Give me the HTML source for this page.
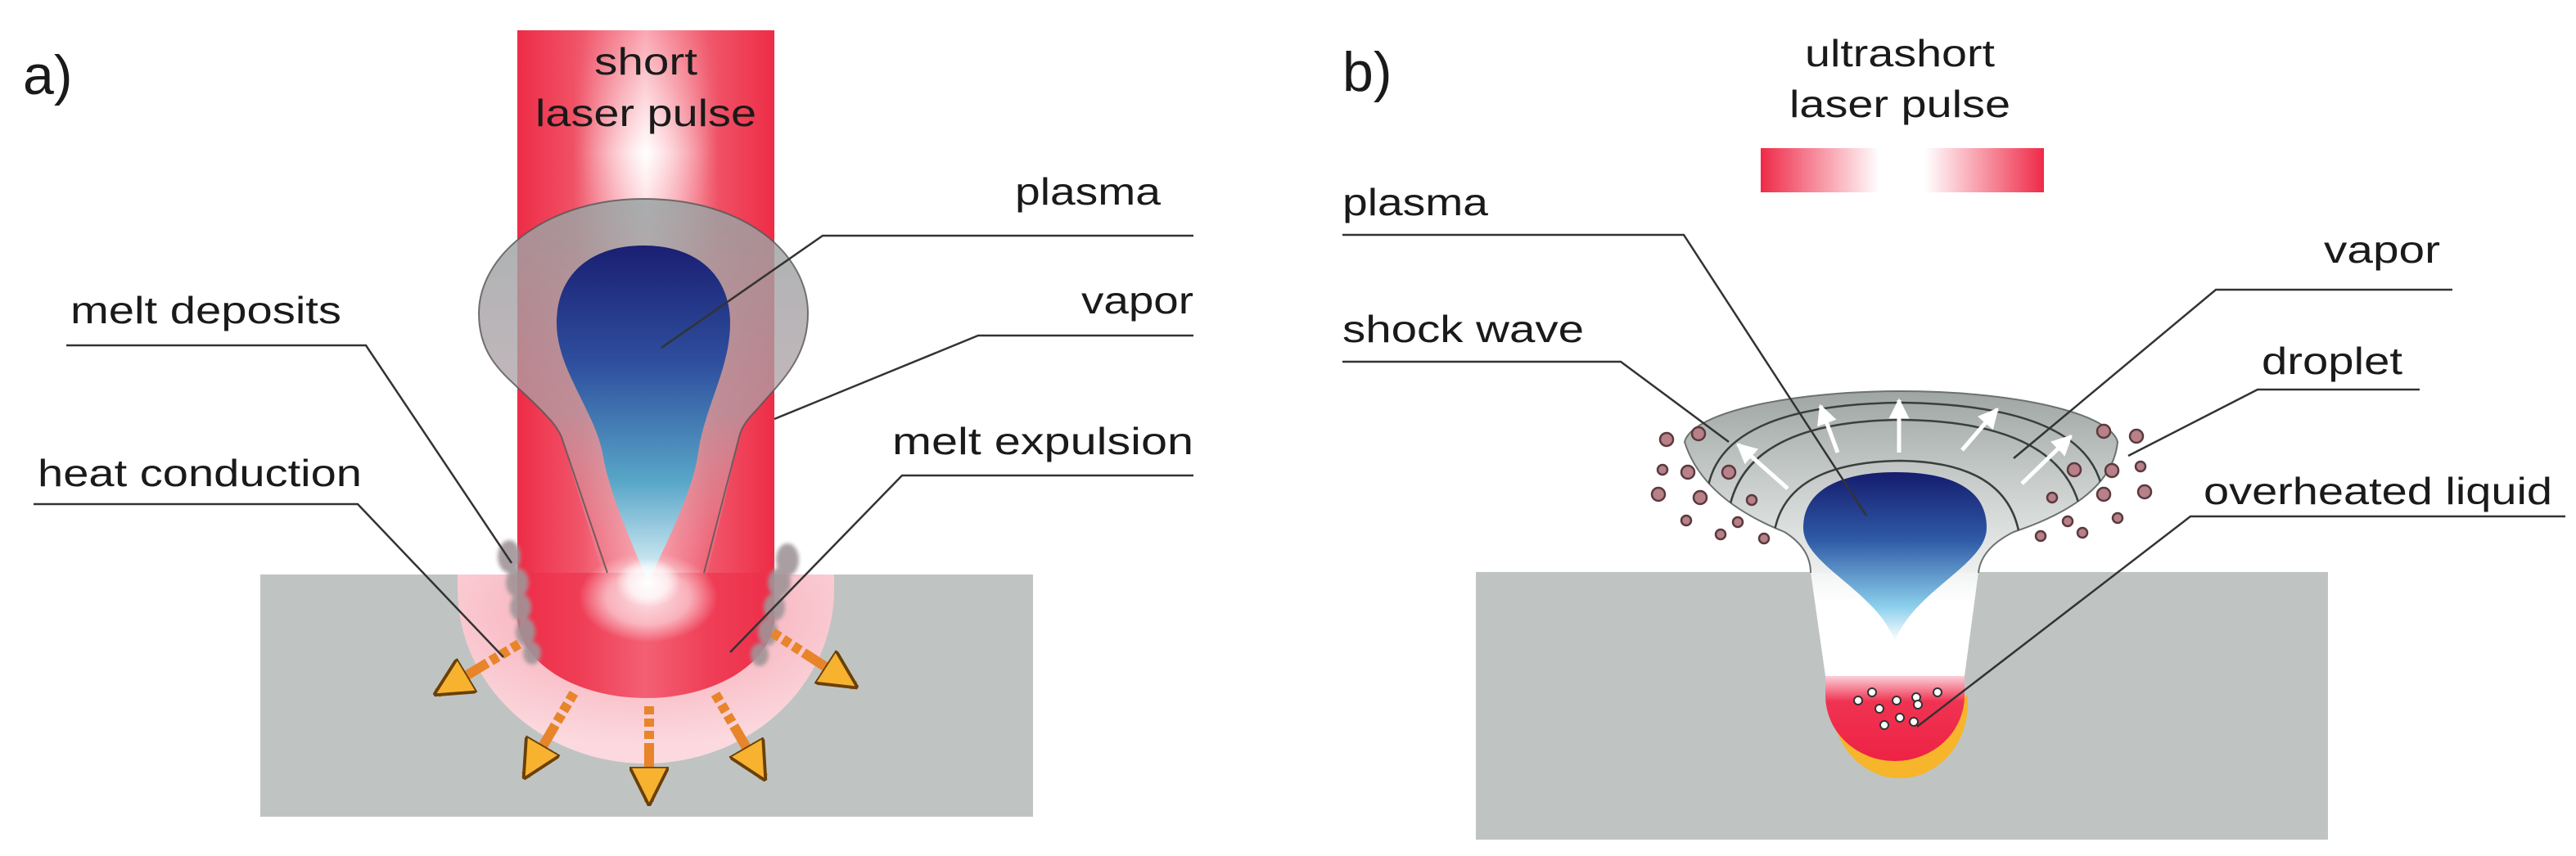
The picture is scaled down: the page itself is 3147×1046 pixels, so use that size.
<!DOCTYPE html>
<html><head><meta charset="utf-8"><style>html,body{margin:0;padding:0;background:#fff}svg{display:block}text{font-family:"Liberation Sans",sans-serif;fill:#1a1a1a}</style></head>
<body>
<svg width="3147" height="1046" viewBox="0 0 3147 1046" xmlns="http://www.w3.org/2000/svg">
<defs>
<linearGradient id="beam" x1="0" x2="1" y1="0" y2="0">
<stop offset="0" stop-color="#ee2c46"/><stop offset="0.25" stop-color="#f0566a"/><stop offset="0.5" stop-color="#fba9b4"/><stop offset="0.75" stop-color="#f0566a"/><stop offset="1" stop-color="#ee2c46"/></linearGradient>
<radialGradient id="wglow" cx="0.5" cy="0.5" r="0.5"><stop offset="0" stop-color="#fff" stop-opacity="1"/><stop offset="0.6" stop-color="#fff" stop-opacity="0.7"/><stop offset="1" stop-color="#fff" stop-opacity="0"/></radialGradient>
<radialGradient id="halo" cx="0.5" cy="0.2" r="0.7"><stop offset="0" stop-color="#f7a0ae"/><stop offset="1" stop-color="#fbd9de"/></radialGradient>
<linearGradient id="vap" x1="0" x2="0" y1="0" y2="1"><stop offset="0" stop-color="#9aa3a3" stop-opacity="0.85"/><stop offset="0.55" stop-color="#b0a0a6" stop-opacity="0.75"/><stop offset="1" stop-color="#f5c0c8" stop-opacity="0"/></linearGradient>
<linearGradient id="pla" x1="0" x2="0" y1="0" y2="1"><stop offset="0" stop-color="#1a1f72"/><stop offset="0.35" stop-color="#2f4f9e"/><stop offset="0.7" stop-color="#58a6c8"/><stop offset="1" stop-color="#e6f6fa"/></linearGradient>
<linearGradient id="plb" x1="0" x2="0" y1="0" y2="1"><stop offset="0" stop-color="#151c6e"/><stop offset="0.4" stop-color="#2f5aa6"/><stop offset="0.8" stop-color="#8cd0ec"/><stop offset="1" stop-color="#ffffff"/></linearGradient>
<linearGradient id="funnel" x1="0" x2="0" y1="0" y2="1"><stop offset="0" stop-color="#9ea5a3"/><stop offset="0.5" stop-color="#c8cdcb"/><stop offset="1" stop-color="#eef0ef"/></linearGradient>
<linearGradient id="pl" x1="0" x2="1"><stop offset="0" stop-color="#ef2a48"/><stop offset="0.42" stop-color="#fff"/><stop offset="0.58" stop-color="#fff"/><stop offset="1" stop-color="#ef2a48"/></linearGradient>
<linearGradient id="liq" x1="0" x2="0" y1="0" y2="1"><stop offset="0" stop-color="#fbd0d8"/><stop offset="0.3" stop-color="#f03352"/><stop offset="1" stop-color="#ee2244"/></linearGradient>
<linearGradient id="kh" x1="0" x2="0" y1="0" y2="1"><stop offset="0" stop-color="#f2f4f4"/><stop offset="0.3" stop-color="#fff"/><stop offset="1" stop-color="#fff"/></linearGradient>
<linearGradient id="band" x1="0" x2="0" y1="0" y2="1"><stop offset="0" stop-color="#fff" stop-opacity="0"/><stop offset="0.5" stop-color="#fff" stop-opacity="1"/><stop offset="1" stop-color="#fff" stop-opacity="0.2"/></linearGradient>
<linearGradient id="bandx" x1="0" x2="1"><stop offset="0" stop-color="#fff" stop-opacity="0"/><stop offset="0.5" stop-color="#fff" stop-opacity="1"/><stop offset="1" stop-color="#fff" stop-opacity="0"/></linearGradient>
<mask id="bm"><rect x="632" y="37" width="314" height="300" fill="url(#band)"/></mask>
<marker id="ah" viewBox="0 0 10 10" refX="9" refY="5" markerWidth="4" markerHeight="4" orient="auto" markerUnits="strokeWidth"><path d="M0,0 L10,5 L0,10 Z" fill="#f7b230" stroke="#6a4008" stroke-width="0.8"/></marker>
<marker id="wh" viewBox="0 0 10 10" refX="9" refY="5" markerWidth="5" markerHeight="5" orient="auto" markerUnits="strokeWidth"><path d="M0,0 L10,5 L0,10 Z" fill="#fff"/></marker>
<filter id="blur" x="-50%" y="-50%" width="200%" height="200%"><feGaussianBlur stdDeviation="2.5"/></filter>
<clipPath id="fclip"><path d="M2058,540 Q2080,610 2180,650 Q2212,670 2212,700 L2417,700 Q2420,670 2460,650 Q2580,610 2587,540 A265,66 0 0 0 2058,540 Z"/></clipPath>
</defs>

<!-- ============ PANEL A ============ -->
<rect x="318" y="702" width="944" height="296" fill="#bfc4c3"/>
<path d="M559,702 L559,720 A230,213 0 0 0 1019,720 L1019,702 Z" fill="url(#halo)"/>
<path d="M632,37 L946,37 L946,753 A157,100 0 0 1 632,753 Z" fill="url(#beam)"/>
<rect x="700" y="37" width="178" height="300" fill="url(#bandx)" mask="url(#bm)"/>
<path d="M632,700 L946,700 L946,753 A157,100 0 0 1 632,753 Z" fill="#ef2f4a" opacity="0.6"/>
<ellipse cx="792" cy="730" rx="85" ry="55" fill="url(#wglow)" opacity="0.8"/>
<!-- vapor -->
<path d="M786,243 C910,243 987,310 987,383 C987,440 950,470 925,500 C910,515 905,525 903,534 L860,720 L742,720 L686,534 C680,520 670,510 654,494 C620,460 585,440 585,383 C585,310 670,243 786,243 Z" fill="url(#vap)"/>
<path d="M742,700 L686,534 C680,520 670,510 654,494 C620,460 585,440 585,383 C585,310 670,243 786,243 C910,243 987,310 987,383 C987,440 950,470 925,500 C910,515 905,525 903,534 L860,700" fill="none" stroke="#555" stroke-width="2" stroke-opacity="0.8"/>
<!-- plasma -->
<path d="M786,300 C850,300 892,335 892,395 C892,450 860,500 853,553 C845,610 800,690 792,712 C784,690 745,610 736,553 C725,500 680,450 680,395 C680,335 722,300 786,300 Z" fill="url(#pla)"/>
<ellipse cx="792" cy="712" rx="40" ry="30" fill="url(#wglow)"/>
<!-- deposits -->
<g fill="#a09498" opacity="0.9" filter="url(#blur)">
<ellipse cx="622" cy="680" rx="14" ry="20"/><ellipse cx="632" cy="712" rx="14" ry="18"/><ellipse cx="636" cy="742" rx="13" ry="17"/><ellipse cx="642" cy="772" rx="12" ry="17"/><ellipse cx="650" cy="798" rx="11" ry="14"/>
<ellipse cx="962" cy="684" rx="14" ry="20"/><ellipse cx="952" cy="712" rx="14" ry="18"/><ellipse cx="946" cy="742" rx="13" ry="17"/><ellipse cx="938" cy="772" rx="12" ry="17"/><ellipse cx="928" cy="800" rx="11" ry="14"/>
</g>
<!-- arrows -->
<g stroke="#e8842a" stroke-width="12" fill="none" stroke-dasharray="10 5 10 5 10 5 300">
<line x1="634" y1="787" x2="534" y2="847" marker-end="url(#ah)"/>
<line x1="701" y1="847" x2="642" y2="948" marker-end="url(#ah)"/>
<line x1="793" y1="863" x2="793" y2="980" marker-end="url(#ah)"/>
<line x1="874" y1="848" x2="933" y2="950" marker-end="url(#ah)"/>
<line x1="944" y1="773" x2="1044" y2="838" marker-end="url(#ah)"/>
</g>
<!-- leaders a -->
<g stroke="#333" stroke-width="2.5" fill="none">
<polyline points="1458,288 1005,288 808,425"/>
<polyline points="1458,410 1195,410 946,512"/>
<polyline points="1458,581 1102,581 892,797"/>
<polyline points="81,422 447,422 625,688"/>
<polyline points="41,616 437,616 615,803"/>
</g>
<g font-size="46">
<text x="28" y="115" font-size="68">a)</text>
<text x="789" y="91" text-anchor="middle" textLength="126" lengthAdjust="spacingAndGlyphs">short</text>
<text x="789" y="154" text-anchor="middle" textLength="270" lengthAdjust="spacingAndGlyphs">laser pulse</text>
<text x="1240" y="250" textLength="178" lengthAdjust="spacingAndGlyphs">plasma</text>
<text x="1321" y="383" textLength="137" lengthAdjust="spacingAndGlyphs">vapor</text>
<text x="1090" y="555" textLength="368" lengthAdjust="spacingAndGlyphs">melt expulsion</text>
<text x="86" y="395" textLength="331" lengthAdjust="spacingAndGlyphs">melt deposits</text>
<text x="46" y="594" textLength="396" lengthAdjust="spacingAndGlyphs">heat conduction</text>
</g>

<!-- ============ PANEL B ============ -->
<rect x="1803" y="699" width="1041" height="327" fill="#bfc4c3"/>
<rect x="2151" y="181" width="346" height="54" fill="url(#pl)"/>
<!-- keyhole -->
<path d="M2212,699 L2230,826 L2400,826 L2417,699 Z" fill="url(#kh)"/>
<path d="M2238,850 L2404,850 L2404,860 A83,91 0 0 1 2238,860 Z" fill="#f6b52a"/>
<path d="M2230,826 L2400,826 L2400,850 A85,80 0 0 1 2230,850 Z" fill="url(#liq)"/>
<!-- funnel -->
<path d="M2058,540 Q2080,610 2180,650 Q2212,670 2212,700 L2417,700 Q2420,670 2460,650 Q2580,610 2587,540 A265,66 0 0 0 2058,540 Z" fill="url(#funnel)"/>
<path d="M2212,700 Q2212,670 2180,650 Q2080,610 2058,540 A265,66 0 0 1 2587,540 Q2580,610 2460,650 Q2420,670 2417,700" fill="none" stroke="#6c7270" stroke-width="2"/>
<g clip-path="url(#fclip)" fill="none" stroke="#3a3f3e" stroke-width="2.5">
<path d="M2085,610 Q2090,495 2322,492 Q2560,495 2570,610"/>
<path d="M2110,650 Q2110,515 2322,513 Q2540,515 2545,650"/>
<path d="M2166,680 Q2160,565 2322,563 Q2470,565 2469,680"/>
</g>
<path d="M2315,783 C2290,720 2203,690 2203,645 C2203,595 2255,577 2315,577 C2380,577 2427,595 2427,645 C2427,690 2340,720 2315,783 Z" fill="url(#plb)"/>
<g stroke="#fff" stroke-width="5" fill="none">
<line x1="2184" y1="597" x2="2123" y2="543" marker-end="url(#wh)"/>
<line x1="2245" y1="553" x2="2224" y2="496" marker-end="url(#wh)"/>
<line x1="2320" y1="553" x2="2320" y2="489" marker-end="url(#wh)"/>
<line x1="2397" y1="550" x2="2440" y2="500" marker-end="url(#wh)"/>
<line x1="2470" y1="591" x2="2530" y2="533" marker-end="url(#wh)"/>
</g>
<!-- droplets -->
<g fill="#b88088" stroke="#5a3a3e" stroke-width="2.5">
<circle cx="2036" cy="537" r="8"/><circle cx="2075" cy="530" r="8"/><circle cx="2031" cy="574" r="6"/><circle cx="2062" cy="577" r="8"/><circle cx="2112" cy="577" r="8"/><circle cx="2026" cy="604" r="8"/><circle cx="2077" cy="608" r="8"/><circle cx="2140" cy="611" r="6"/><circle cx="2060" cy="636" r="6"/><circle cx="2102" cy="653" r="6"/><circle cx="2155" cy="658" r="6"/><circle cx="2123" cy="638" r="6"/>
<circle cx="2570" cy="527" r="8"/><circle cx="2610" cy="533" r="8"/><circle cx="2534" cy="574" r="8"/><circle cx="2580" cy="575" r="8"/><circle cx="2615" cy="570" r="6"/><circle cx="2620" cy="601" r="8"/><circle cx="2570" cy="604" r="8"/><circle cx="2507" cy="608" r="6"/><circle cx="2587" cy="633" r="6"/><circle cx="2526" cy="637" r="6"/><circle cx="2544" cy="651" r="6"/><circle cx="2493" cy="655" r="6"/>
</g>
<g fill="#fff" stroke="#333" stroke-width="2">
<circle cx="2287" cy="846" r="5"/><circle cx="2270" cy="856" r="5"/><circle cx="2317" cy="856" r="5"/><circle cx="2341" cy="852" r="5"/><circle cx="2367" cy="846" r="5"/><circle cx="2296" cy="866" r="5"/><circle cx="2343" cy="861" r="5"/><circle cx="2321" cy="877" r="5"/><circle cx="2302" cy="886" r="5"/><circle cx="2338" cy="882" r="5"/>
</g>
<g stroke="#333" stroke-width="2.5" fill="none">
<polyline points="1640,287 2057,287 2280,630"/>
<polyline points="1640,442 1980,442 2112,540"/>
<polyline points="2996,354 2707,354 2460,560"/>
<polyline points="2956,476 2758,476 2600,557"/>
<polyline points="3134,631 2676,631 2342,888"/>
</g>
<g font-size="46">
<text x="1640" y="111" font-size="68">b)</text>
<text x="2321" y="81" text-anchor="middle" textLength="232" lengthAdjust="spacingAndGlyphs">ultrashort</text>
<text x="2321" y="143" text-anchor="middle" textLength="270" lengthAdjust="spacingAndGlyphs">laser pulse</text>
<text x="1640" y="263" textLength="178" lengthAdjust="spacingAndGlyphs">plasma</text>
<text x="1640" y="418" textLength="295" lengthAdjust="spacingAndGlyphs">shock wave</text>
<text x="2839" y="321" textLength="142" lengthAdjust="spacingAndGlyphs">vapor</text>
<text x="2763" y="457" textLength="172" lengthAdjust="spacingAndGlyphs">droplet</text>
<text x="2692" y="616" textLength="426" lengthAdjust="spacingAndGlyphs">overheated liquid</text>
</g>
</svg>
</body></html>
